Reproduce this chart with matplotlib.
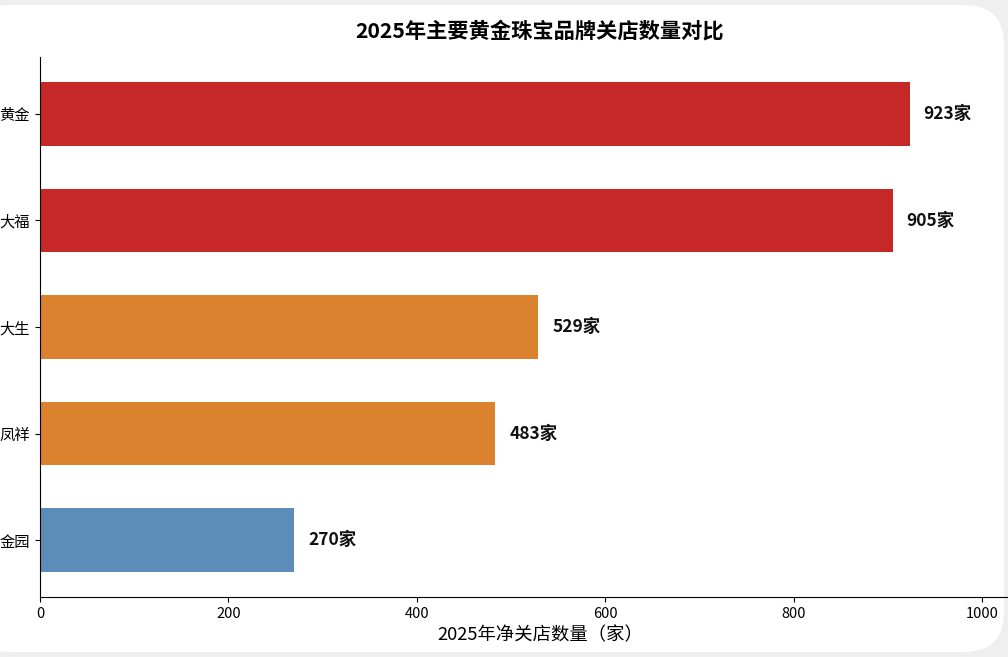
import matplotlib
matplotlib.use('Agg')
import matplotlib.pyplot as plt
from matplotlib.patches import FancyBboxPatch

plt.rcParams['font.family'] = ['Noto Sans CJK SC', 'DejaVu Sans']

# data (labels are cut off on the left in the reference)
brands = ['黄金', '大福', '大生', '凤祥', '金园']
closures = [923, 905, 529, 483, 270]
bar_colors = ['#C62828', '#C62828', '#DA822E', '#DA822E', '#5B8DB8']

fig = plt.figure(figsize=(10.08, 6.57), dpi=100)
fig.patch.set_facecolor('#EFEFEF')

# white rounded card behind the chart
card = FancyBboxPatch((-0.3, 0.05), 10.34, 6.47,
                      boxstyle='round,pad=0,rounding_size=0.4',
                      transform=fig.dpi_scale_trans,
                      facecolor='white', edgecolor='none', zorder=-10)
fig.patches.append(card)

ax = fig.add_axes([40 / 1008, 60 / 657, 1000 / 1008, 540 / 657])
ax.set_facecolor('none')

ypos = list(range(len(brands)))
ax.barh(ypos, closures, height=0.6, color=bar_colors)

for y, v in zip(ypos, closures):
    ax.text(v + 15, y, '%d家' % v, va='center', ha='left',
            fontsize=12.5, fontweight='bold', color='#111111')

ax.set_yticks(ypos)
ax.set_yticklabels(brands, fontsize=11)
ax.tick_params(axis='y', pad=4)
ax.set_ylim(len(brands) - 0.465, -0.535)
ax.set_xlim(0, max(closures) * 1.15)
ax.set_xticks([0, 200, 400, 600, 800, 1000])
ax.tick_params(axis='x', labelsize=10.5)

ax.set_xlabel('2025年净关店数量（家）', fontsize=13.2)
ax.set_title('2025年主要黄金珠宝品牌关店数量对比', fontsize=15.3,
             fontweight='bold', pad=14)

for s in ['top', 'right']:
    ax.spines[s].set_visible(False)

fig.savefig('out.png', dpi=100, facecolor=fig.get_facecolor())
